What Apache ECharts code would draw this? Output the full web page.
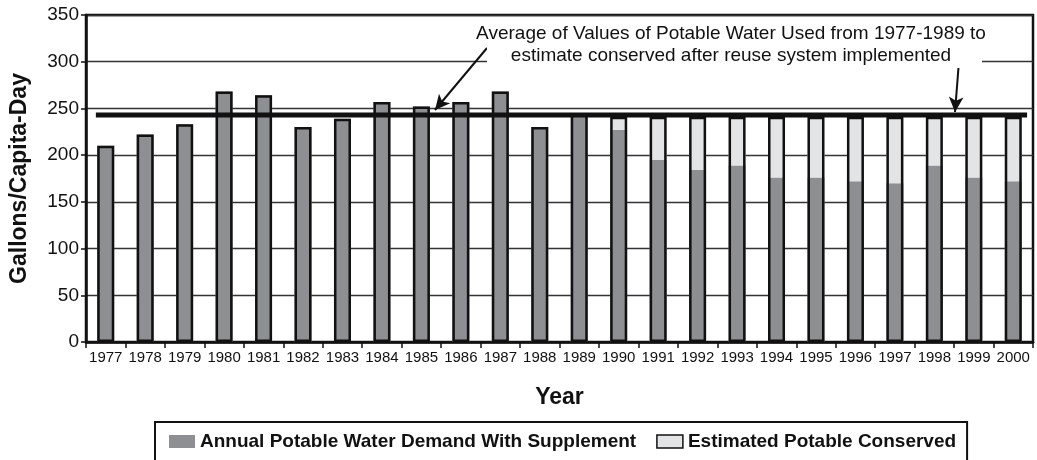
<!DOCTYPE html>
<html>
<head>
<meta charset="utf-8">
<script src="https://cdn.jsdelivr.net/npm/echarts@6/dist/echarts.min.js"></script>
<style>
  html, body { margin: 0; padding: 0; background: #fff; }
  #chart { width: 1037px; height: 460px; }
</style>
</head>
<body>
<div id="chart"></div>
<script>
const years = ['1977', '1978', '1979', '1980', '1981', '1982', '1983', '1984', '1985', '1986', '1987', '1988',
  '1989', '1990', '1991', '1992', '1993', '1994', '1995', '1996', '1997', '1998', '1999', '2000']
// gallons/capita-day
const demand = [210, 222, 233, 268, 264, 230, 239, 257, 252, 257, 268, 230,
  245, 227, 195, 184, 189, 176, 176, 172, 170, 189, 176, 172]
const conserved = [0, 0, 0, 0, 0, 0, 0, 0, 0, 0, 0, 0,
  0, 14, 46, 57, 52, 65, 65, 69, 71, 52, 65, 69]
const avgValue = 243
// avg line runs from first bar edge to last bar edge (in category units)
const avgSpan = [0.25, 23.85]
const yTicks = [0, 50, 100, 150, 200, 250, 300, 350]

const noteText = 'Average of Values of Potable Water Used from 1977-1989 to\nestimate conserved after reuse system implemented'
const font = '"Liberation Sans", Arial, sans-serif'
const ink = '#111'

const totals = demand.map((d, i) => d + conserved[i])

const chart = echarts.init(document.getElementById('chart'))

const option = {
  animation: false,
  textStyle: { fontFamily: font, color: ink },
  grid: {
    left: 86, right: 4, top: 15, bottom: 118,
    show: true, borderColor: ink, borderWidth: 2.5
  },
  legend: {
    left: 155, top: 422,
    padding: [10, 11, 20, 14],
    borderColor: ink, borderWidth: 2,
    itemGap: 20, itemWidth: 26, itemHeight: 13,
    textStyle: { fontSize: 19, fontWeight: 'bold', color: ink, fontFamily: font },
    data: [
      { name: 'Annual Potable Water Demand With Supplement', icon: 'rect', itemStyle: { borderWidth: 0 } },
      { name: 'Estimated Potable Conserved', icon: 'rect', itemStyle: { borderColor: ink, borderWidth: 1.5 } }
    ]
  },
  xAxis: [
    {
      type: 'category',
      data: years,
      name: 'Year',
      nameLocation: 'middle',
      nameGap: 44,
      nameTextStyle: { fontSize: 23, fontWeight: 'bold', color: ink, fontFamily: font },
      axisLine: { lineStyle: { color: ink, width: 2.5 } },
      axisTick: { show: true, length: 6, lineStyle: { color: ink, width: 1.5 } },
      axisLabel: { fontSize: 15, color: ink, margin: 8, interval: 0 }
    },
    { type: 'value', min: 0, max: years.length, show: false }
  ],
  yAxis: {
    type: 'value',
    min: yTicks[0], max: yTicks[yTicks.length - 1], interval: 50,
    name: 'Gallons/Capita-Day',
    nameLocation: 'middle',
    nameGap: 55,
    nameTextStyle: { fontSize: 23, fontWeight: 'bold', color: ink, fontFamily: font },
    axisLine: { show: true, lineStyle: { color: ink, width: 2.5 } },
    axisTick: { show: true, length: 5, lineStyle: { color: ink, width: 1.5 } },
    axisLabel: { fontSize: 19, color: ink, margin: 7 },
    splitLine: { lineStyle: { color: '#333', width: 1.4 } }
  },
  series: [
    {
      name: 'Annual Potable Water Demand With Supplement',
      type: 'bar', stack: 'use', barWidth: 17,
      itemStyle: { color: '#8e8f93', borderWidth: 0 },
      data: demand
    },
    {
      name: 'Estimated Potable Conserved',
      type: 'bar', stack: 'use', barWidth: 17,
      itemStyle: { color: '#e3e4e6', borderWidth: 0 },
      data: conserved
    },
    {
      // black outline round the whole stack
      name: 'outline',
      type: 'bar', barWidth: 17, barGap: '-100%',
      itemStyle: { color: 'rgba(0,0,0,0)', borderColor: ink, borderWidth: 2.5 },
      silent: true,
      data: totals
    },
    {
      name: 'average',
      type: 'line',
      xAxisIndex: 1,
      symbol: 'none',
      z: 5,
      lineStyle: { color: ink, width: 5 },
      data: [[avgSpan[0], avgValue], [avgSpan[1], avgValue]],
      markLine: {
        silent: true,
        symbol: ['none', 'arrow'],
        symbolSize: [11, 15],
        label: { show: false },
        lineStyle: { color: ink, width: 2, type: 'solid' },
        data: [
          [{ x: 487, y: 48 }, { x: 435, y: 110 }],
          [{ x: 959, y: 61 }, { x: 955, y: 112 }]
        ]
      }
    }
  ],
  graphic: [
    { type: 'rect', shape: { x: 487, y: 18, width: 495, height: 50 }, style: { fill: '#fff' }, z: 10 },
    {
      type: 'text', x: 731, y: 45, z: 11,
      style: {
        text: noteText, font: '19px ' + font, fill: ink,
        textAlign: 'center', textVerticalAlign: 'middle', lineHeight: 22
      }
    }
  ]
}
chart.setOption(option)
</script>
</body>
</html>
